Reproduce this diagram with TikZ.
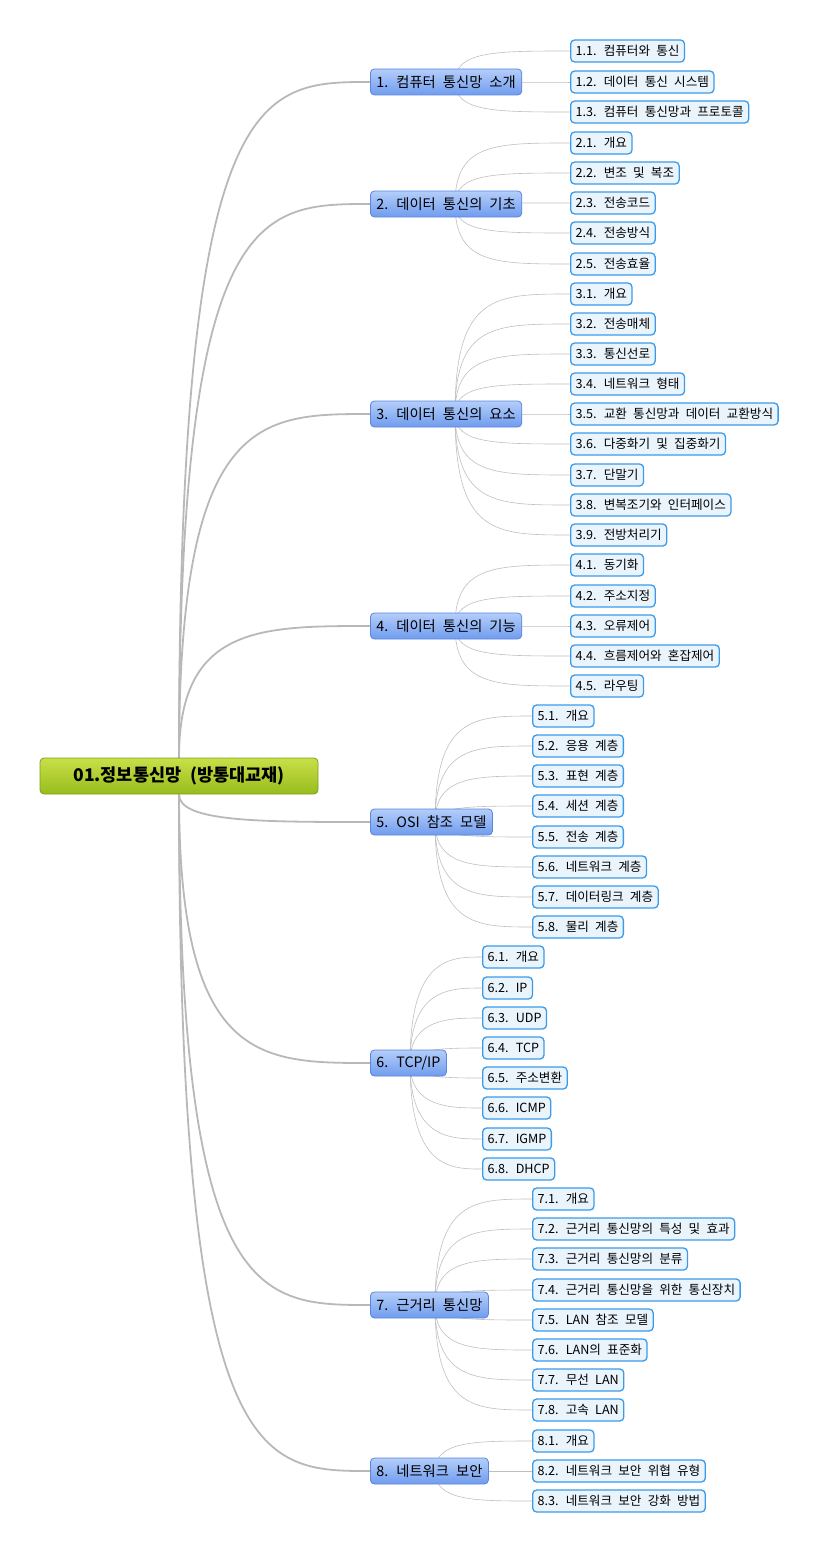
\documentclass[tikz,border=0pt]{standalone}
\usepackage{fontspec}
\setmainfont{Noto Sans CJK KR}[WordSpace=2.2]
\usetikzlibrary{backgrounds}
\definecolor{lb}{HTML}{3C9BE8}
\definecolor{cf}{HTML}{EAF4FD}
\definecolor{bt}{HTML}{B4CEFA}
\definecolor{bb}{HTML}{709CEE}
\definecolor{bd}{HTML}{5A85E0}
\definecolor{gt}{HTML}{C8E048}
\definecolor{gb}{HTML}{98BC1C}
\definecolor{gd}{HTML}{7E9E22}
\tikzset{
 root/.style={draw=gd, rounded corners=4pt, top color=gt, bottom color=gb, line width=0.8pt, font=\bfseries\fontsize{17.5}{19}\selectfont, minimum height=36pt, minimum width=278pt},
 l1/.style={draw=bd, rounded corners=4pt, top color=bt, bottom color=bb, line width=0.8pt, font=\fontsize{14.3}{15}\selectfont, minimum height=26pt, inner xsep=6pt, anchor=west},
 l2/.style={draw=lb, fill=cf, rounded corners=4pt, line width=1.3pt, font=\fontsize{12.6}{13}\selectfont, minimum height=22pt, inner xsep=5pt, anchor=west},
 big/.style={draw=black!28, line width=1.8pt},
 thin/.style={draw=black!25, line width=0.6pt}
}
\newcommand\mmgroup[7]{%
 \node[l1] (g#1) at (370,#2) {#3};
 \begin{scope}[on background layer]
  \draw[big] (root.#7) .. controls (179,#2) and (260,#2) .. (g#1.west);
 \end{scope}
 \coordinate (h#1) at (#4,#2);
 \foreach \yy/\tt [count=\k] in {#6}{
  \node[l2] (c#1-\k) at (#5,\yy) {\tt};
  \begin{scope}[on background layer]
   \draw[thin] (h#1) .. controls (#4,\yy) and (#4+40,\yy) .. (c#1-\k.west);
  \end{scope}
 }}
\begin{document}
\begin{tikzpicture}[x=1pt,y=-1pt]
\useasboundingbox (0,0) rectangle (840,1552);
\node[root] (root) at (179,776) {01.정보통신망 (방통대교재)};
\mmgroup{1}{82}{1. 컴퓨터 통신망 소개}{455}{570}{51/1.1. 컴퓨터와 통신,82/1.2. 데이터 통신 시스템,112/1.3. 컴퓨터 통신망과 프로토콜}{north}
\mmgroup{2}{204}{2. 데이터 통신의 기초}{455}{570}{143/2.1. 개요,173/2.2. 변조 및 복조,203/2.3. 전송코드,233/2.4. 전송방식,264/2.5. 전송효율}{north}
\mmgroup{3}{414}{3. 데이터 통신의 요소}{455}{570}{294/3.1. 개요,324/3.2. 전송매체,354/3.3. 통신선로,384/3.4. 네트워크 형태,414/3.5. 교환 통신망과 데이터 교환방식,444/3.6. 다중화기 및 집중화기,475/3.7. 단말기,505/3.8. 변복조기와 인터페이스,535/3.9. 전방처리기}{north}
\mmgroup{4}{626}{4. 데이터 통신의 기능}{455}{570}{565/4.1. 동기화,596/4.2. 주소지정,626/4.3. 오류제어,656/4.4. 흐름제어와 혼잡제어,686/4.5. 라우팅}{north}
\mmgroup{5}{822}{5. OSI 참조 모델}{435}{532}{716/5.1. 개요,746/5.2. 응용 계층,776/5.3. 표현 계층,806/5.4. 세션 계층,837/5.5. 전송 계층,867/5.6. 네트워크 계층,897/5.7. 데이터링크 계층,927/5.8. 물리 계층}{south}
\mmgroup{6}{1063}{6. TCP/IP}{410}{482}{957/6.1. 개요,988/6.2. IP,1018/6.3. UDP,1048/6.4. TCP,1078/6.5. 주소변환,1108/6.6. ICMP,1139/6.7. IGMP,1169/6.8. DHCP}{south}
\mmgroup{7}{1305}{7. 근거리 통신망}{435}{532}{1199/7.1. 개요,1229/7.2. 근거리 통신망의 특성 및 효과,1259/7.3. 근거리 통신망의 분류,1290/7.4. 근거리 통신망을 위한 통신장치,1320/7.5. LAN 참조 모델,1350/7.6. LAN의 표준화,1380/7.7. 무선 LAN,1410/7.8. 고속 LAN}{south}
\mmgroup{8}{1471}{8. 네트워크 보안}{435}{532}{1441/8.1. 개요,1471/8.2. 네트워크 보안 위협 유형,1501/8.3. 네트워크 보안 강화 방법}{south}
\end{tikzpicture}
\end{document}
